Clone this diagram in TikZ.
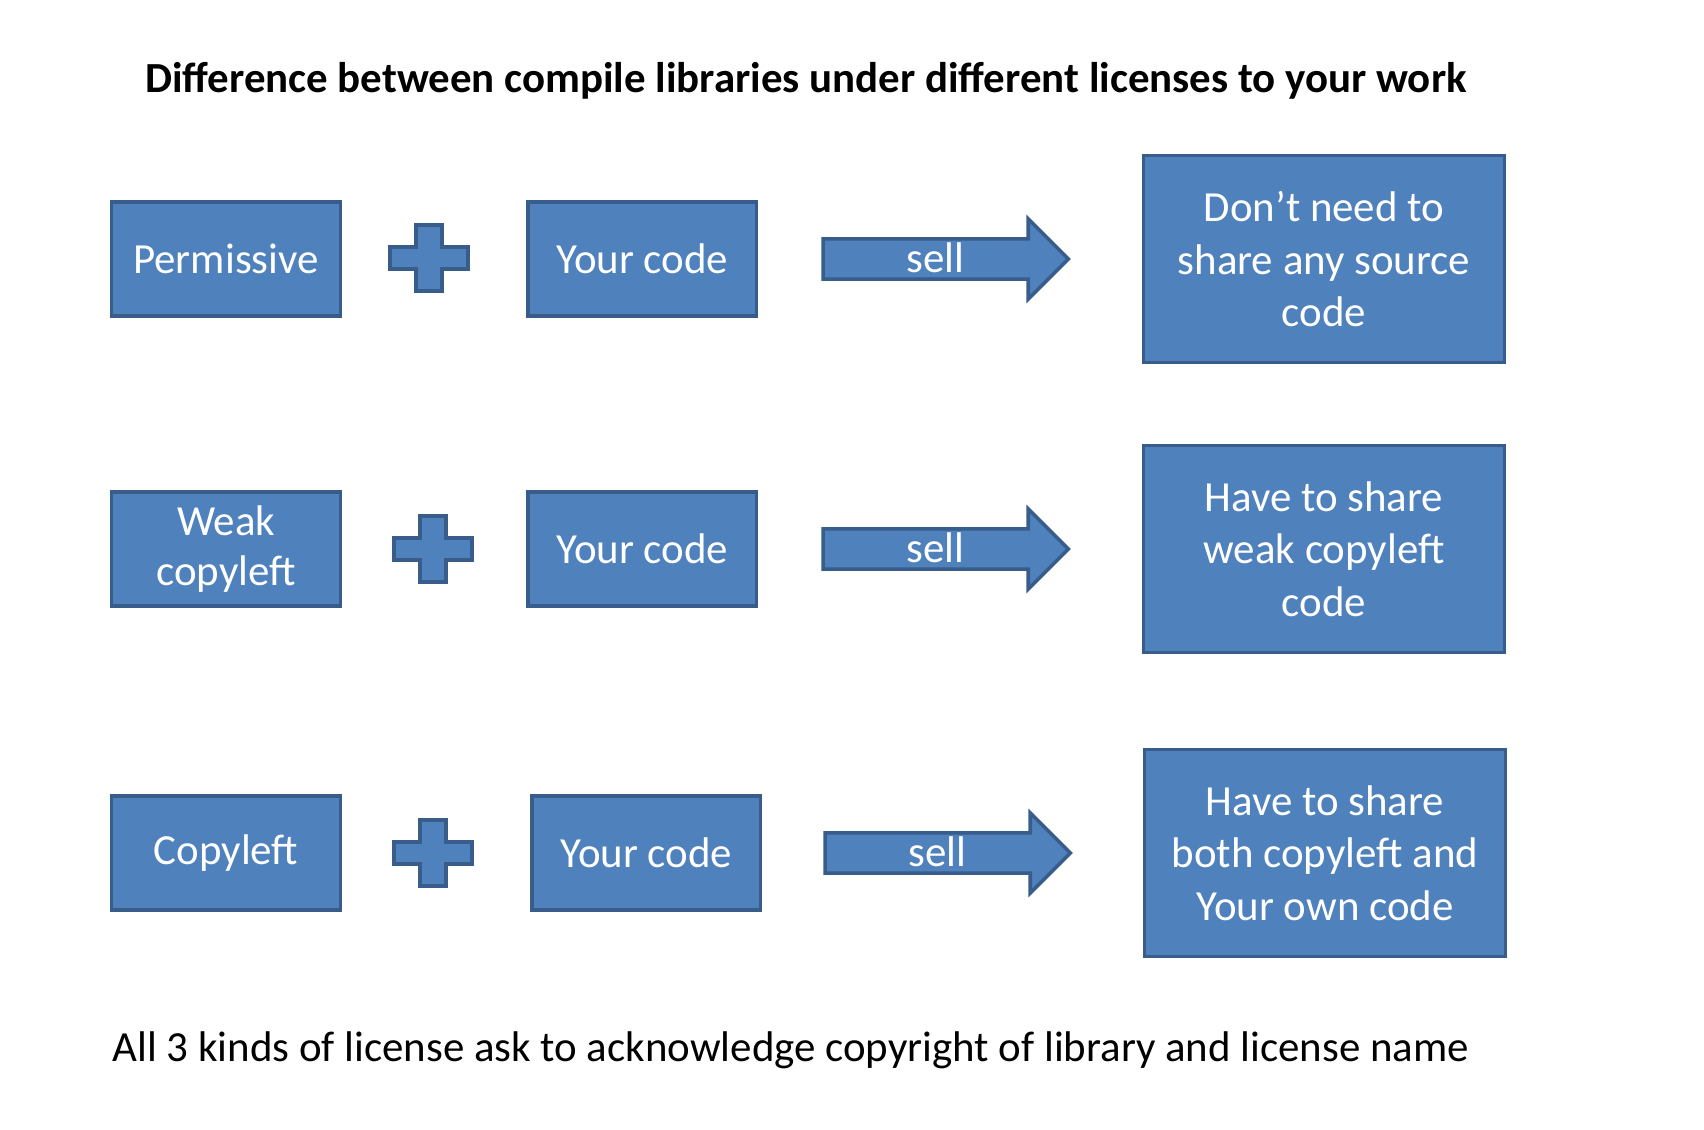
\documentclass[tikz,border=0pt]{standalone}
\usepackage{fontspec}
\setmainfont{Carlito}
\usetikzlibrary{shapes.arrows}
\usetikzlibrary{positioning}
\definecolor{boxfill}{HTML}{4F81BD}
\definecolor{boxline}{HTML}{385D8A}
\tikzset{every picture/.style={line width=1pt},
  lic/.style={minimum width=2.285cm,minimum height=1.135cm,draw=boxline,fill=boxfill,text=white,align=center,inner sep=0pt,font=\fontsize{12.2}{14.4}\selectfont},
  res/.style={lic,minimum width=3.605cm,minimum height=2.065cm,font=\fontsize{12.2}{14.9}\selectfont},
  sellarrow/.style={single arrow,draw=boxline,fill=boxfill,text=white,minimum height=2.45cm,minimum width=0.77cm,single arrow head extend=0.2cm,text height=7.4pt,text depth=0pt,inner ysep=1.5pt,inner xsep=0pt,font=\fontsize{12.2}{14.4}\selectfont},
  plussign/.pic={\draw[draw=boxline,fill=boxfill] (-39,-11) -- (-13,-11) -- (-13,-33) -- (13,-33) -- (13,-11) -- (39,-11) -- (39,11) -- (13,11) -- (13,33) -- (-13,33) -- (-13,11) -- (-39,11) -- cycle;}}
\begin{document}
\begin{tikzpicture}[x=0.01cm,y=-0.01cm]
\useasboundingbox (0,0) rectangle (1704,1129);

\node (title) at (806,81) {\fontsize{12.2}{14.4}\selectfont\bfseries Difference between compile libraries under different licenses to your work};

% permissive
\node (perm) at (226,259) [lic] {Permissive};
\node (code1) [lic, right=1.84cm of perm] {Your code};
\node (sell1) [sellarrow, right=0.63cm of code1] {sell};
\node (res1) [res, right=0.71cm of sell1] {Don’t need to\\share any source\\code};
\pic at (429,258) {plussign};

% weak copyleft
\node (weak) at (226,549) [lic] {Weak\\copyleft};
\node (code2) [lic, right=1.84cm of weak] {Your code};
\node (sell2) [sellarrow, right=0.63cm of code2] {sell};
\node (res2) [res, right=0.71cm of sell2] {Have to share\\weak copyleft\\code};
\pic at (433,549) {plussign};

% copyleft
\node (copy) at (226,853) [lic] {Copyleft};
\node (code3) [lic, right=1.88cm of copy] {Your code};
\node (sell3) [sellarrow, right=0.61cm of code3] {sell};
\node (res3) [res, right=0.70cm of sell3] {Have to share\\both copyleft and\\Your own code};
\pic at (433,853) {plussign};

\node (note) at (111,1050) [anchor=west,inner sep=0pt,font=\fontsize{12.2}{14.4}\selectfont] {All 3 kinds of license ask to acknowledge copyright of library and license name};
\end{tikzpicture}
\end{document}
